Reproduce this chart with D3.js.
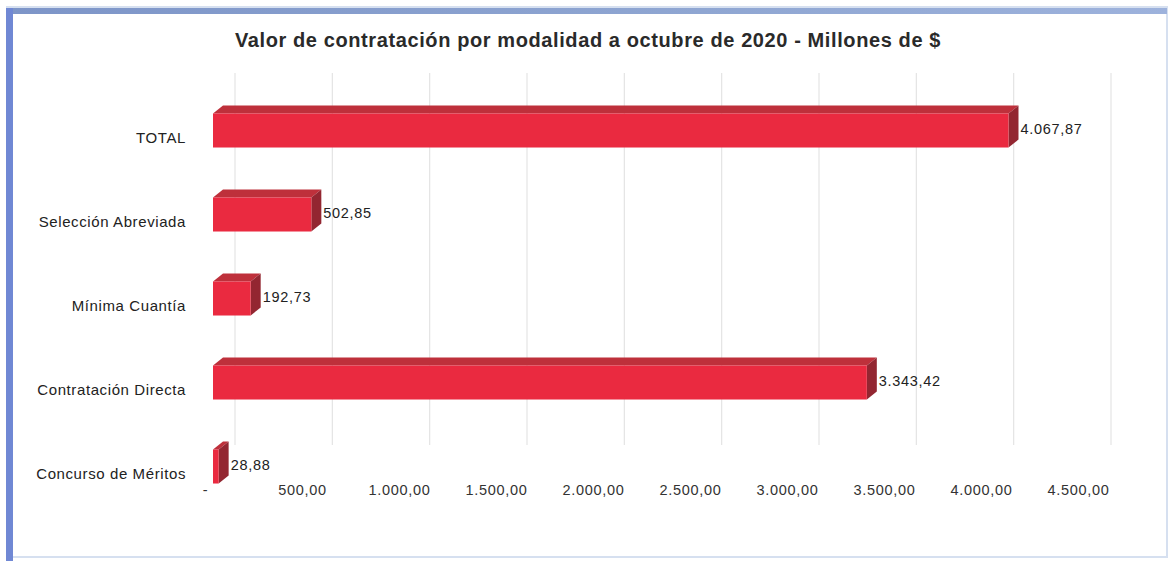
<!DOCTYPE html>
<html>
<head>
<meta charset="utf-8">
<script src="https://cdn.jsdelivr.net/npm/d3@7"></script>
<style>
  html, body { margin: 0; padding: 0; background: #ffffff; }
  svg { display: block; }
  text { font-family: Arial, "Liberation Sans", sans-serif; }
</style>
</head>
<body>
<svg id="chart" width="1172" height="561"></svg>
<script>
// ---- data ----
const title = "Valor de contratación por modalidad a octubre de 2020 - Millones de $";
const categories = ["TOTAL", "Selección Abreviada", "Mínima Cuantía", "Contratación Directa", "Concurso de Méritos"];
const values = [4067.87, 502.85, 192.73, 3343.42, 28.88];
const tickValues = [0, 500, 1000, 1500, 2000, 2500, 3000, 3500, 4000, 4500];

// ---- setup ----
const W = 1172, H = 561;
const svg = d3.select("#chart");
const loc = d3.formatLocale({ decimal: ",", thousands: ".", grouping: [3], currency: ["$", ""] });
const fmt = loc.format(",.2f");
const tickFmt = v => v === 0 ? "-" : fmt(v);

// frame
const defs = svg.append("defs");
const gTop = defs.append("linearGradient").attr("id", "topBorder").attr("x1", "0").attr("x2", "1");
gTop.append("stop").attr("offset", "0").attr("stop-color", "#7d95c8");
gTop.append("stop").attr("offset", "0.6").attr("stop-color", "#8fa6d2");
gTop.append("stop").attr("offset", "1").attr("stop-color", "#9db2dc");

svg.append("rect").attr("x", 7).attr("y", 7).attr("width", 1160).attr("height", 550)
  .attr("fill", "#ffffff").attr("stroke", "#d6e0f0").attr("stroke-width", 2);
svg.append("rect").attr("x", 7).attr("y", 8).attr("width", 1160).attr("height", 6).attr("fill", "url(#topBorder)");
svg.append("rect").attr("x", 6).attr("y", 8).attr("width", 7).attr("height", 553).attr("fill", "#7088d4");

// scales
const xFront = d3.scaleLinear().domain([0, 4500]).range([213, 1093]);
const xGrid = d3.scaleLinear().domain([0, 4500]).range([235, 1111]);
const xLabel = d3.scaleLinear().domain([0, 4500]).range([205, 1078]);
const y = d3.scaleBand().domain(categories).range([88.5, 508.5]).paddingInner(0.595).paddingOuter(0.2975);

// title
svg.append("text").attr("x", 588).attr("y", 47).attr("text-anchor", "middle")
  .attr("font-size", 20).attr("letter-spacing", "0.6px").attr("font-weight", "bold")
  .attr("fill", "#2a2a2a").text(title);

// gridlines (back wall)
svg.append("g").selectAll("line").data(tickValues).join("line")
  .attr("x1", d => xGrid(d)).attr("x2", d => xGrid(d))
  .attr("y1", 73).attr("y2", 445)
  .attr("stroke", "#e4e4e4").attr("stroke-width", 1.2);

// x axis labels
const xAxis = d3.axisBottom(xLabel).tickValues(tickValues).tickFormat(tickFmt).tickSize(0).tickPadding(0);
const gx = svg.append("g").attr("transform", "translate(0,485)").call(xAxis);
gx.select(".domain").remove();
gx.selectAll("text").attr("font-size", 14.5).attr("fill", "#333").attr("font-family", "Arial, 'Liberation Sans', sans-serif")
  .attr("letter-spacing", "0.7px");

// category labels
svg.append("g").selectAll("text").data(categories).join("text")
  .attr("x", 186).attr("y", d => y(d) + y.bandwidth() / 2 + 9)
  .attr("text-anchor", "end").attr("dominant-baseline", "middle")
  .attr("font-size", 15).attr("letter-spacing", "0.6px").attr("fill", "#222").text(d => d);

// 3D bars
const dx = 10, dy = 8;
const bars = svg.append("g").selectAll("g").data(categories.map((c, i) => ({ c, v: values[i] }))).join("g");
bars.append("polygon").attr("fill", "#be303b").attr("points", d => {
  const x0 = xFront(0), x1 = xFront(d.v), yy = y(d.c);
  return [[x0, yy], [x0 + dx, yy - dy], [x1 + dx, yy - dy], [x1, yy]].map(p => p.join(",")).join(" ");
});
bars.append("polygon").attr("fill", "#932631").attr("points", d => {
  const x1 = xFront(d.v), yy = y(d.c), h = y.bandwidth();
  return [[x1, yy], [x1 + dx, yy - dy], [x1 + dx, yy + h - dy], [x1, yy + h]].map(p => p.join(",")).join(" ");
});
bars.append("rect").attr("fill", "#ea2a40")
  .attr("x", xFront(0)).attr("y", d => y(d.c))
  .attr("width", d => xFront(d.v) - xFront(0)).attr("height", y.bandwidth());

// value labels
bars.append("text")
  .attr("x", d => xFront(d.v) + dx + 2).attr("y", d => y(d.c) + y.bandwidth() / 2)
  .attr("dominant-baseline", "middle").attr("font-size", 14.5).attr("letter-spacing", "0.7px")
  .attr("fill", "#222").text(d => fmt(d.v));
</script>
</body>
</html>
